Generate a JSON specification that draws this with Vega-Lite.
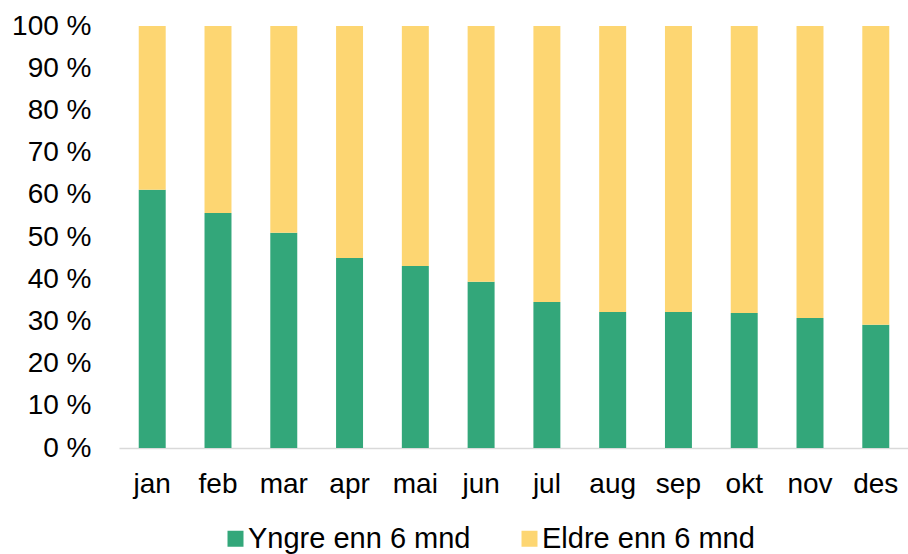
{
  "$schema": "https://vega.github.io/schema/vega-lite/v6.json",
  "width": 790,
  "height": 422,
  "padding": {"top": 12, "left": 11, "right": 0, "bottom": 5},
  "background": "white",
  "config": {"view": {"stroke": null}, "font": "Liberation Sans"},
  "data": {"values": [
    {"mnd": "jan", "gruppe": "Yngre enn 6 mnd", "k": 1, "andel": 61.2},
    {"mnd": "feb", "gruppe": "Yngre enn 6 mnd", "k": 1, "andel": 55.7},
    {"mnd": "mar", "gruppe": "Yngre enn 6 mnd", "k": 1, "andel": 51.0},
    {"mnd": "apr", "gruppe": "Yngre enn 6 mnd", "k": 1, "andel": 45.0},
    {"mnd": "mai", "gruppe": "Yngre enn 6 mnd", "k": 1, "andel": 43.1},
    {"mnd": "jun", "gruppe": "Yngre enn 6 mnd", "k": 1, "andel": 39.4},
    {"mnd": "jul", "gruppe": "Yngre enn 6 mnd", "k": 1, "andel": 34.6},
    {"mnd": "aug", "gruppe": "Yngre enn 6 mnd", "k": 1, "andel": 32.2},
    {"mnd": "sep", "gruppe": "Yngre enn 6 mnd", "k": 1, "andel": 32.2},
    {"mnd": "okt", "gruppe": "Yngre enn 6 mnd", "k": 1, "andel": 32.0},
    {"mnd": "nov", "gruppe": "Yngre enn 6 mnd", "k": 1, "andel": 30.8},
    {"mnd": "des", "gruppe": "Yngre enn 6 mnd", "k": 1, "andel": 29.2},
    {"mnd": "jan", "gruppe": "Eldre enn 6 mnd", "k": 2, "andel": 38.8},
    {"mnd": "feb", "gruppe": "Eldre enn 6 mnd", "k": 2, "andel": 44.3},
    {"mnd": "mar", "gruppe": "Eldre enn 6 mnd", "k": 2, "andel": 49.0},
    {"mnd": "apr", "gruppe": "Eldre enn 6 mnd", "k": 2, "andel": 55.0},
    {"mnd": "mai", "gruppe": "Eldre enn 6 mnd", "k": 2, "andel": 56.9},
    {"mnd": "jun", "gruppe": "Eldre enn 6 mnd", "k": 2, "andel": 60.6},
    {"mnd": "jul", "gruppe": "Eldre enn 6 mnd", "k": 2, "andel": 65.4},
    {"mnd": "aug", "gruppe": "Eldre enn 6 mnd", "k": 2, "andel": 67.8},
    {"mnd": "sep", "gruppe": "Eldre enn 6 mnd", "k": 2, "andel": 67.8},
    {"mnd": "okt", "gruppe": "Eldre enn 6 mnd", "k": 2, "andel": 68.0},
    {"mnd": "nov", "gruppe": "Eldre enn 6 mnd", "k": 2, "andel": 69.2},
    {"mnd": "des", "gruppe": "Eldre enn 6 mnd", "k": 2, "andel": 70.8}
  ]},
  "mark": {"type": "bar"},
  "encoding": {
    "x": {
      "field": "mnd", "type": "nominal", "sort": null,
      "scale": {"paddingInner": 0.59, "paddingOuter": 0.3},
      "axis": {"title": null, "labelAngle": 0, "labelFontSize": 28, "labelColor": "#000000", "labelPadding": 22, "ticks": false, "domainColor": "#d9d9d9", "domainWidth": 1.5}
    },
    "y": {
      "field": "andel", "type": "quantitative", "stack": "zero",
      "scale": {"domain": [0, 100], "nice": false},
      "axis": {"title": null, "values": [0,10,20,30,40,50,60,70,80,90,100], "labelExpr": "datum.value + ' %'", "labelFontSize": 28, "labelColor": "#000000", "labelPadding": 28, "ticks": false, "domain": false, "grid": false}
    },
    "color": {
      "field": "gruppe", "type": "nominal",
      "scale": {"domain": ["Yngre enn 6 mnd", "Eldre enn 6 mnd"], "range": ["#33A77A", "#FDD672"]},
      "legend": {"title": null, "orient": "none", "legendX": 102, "legendY": 498, "direction": "horizontal", "symbolType": "square", "symbolSize": 256, "symbolStrokeWidth": 0, "labelFontSize": 29, "labelColor": "#000000", "columnPadding": 44, "labelOffset": -2, "labelLimit": 400}
    },
    "order": {"field": "k", "type": "quantitative"}
  }
}
